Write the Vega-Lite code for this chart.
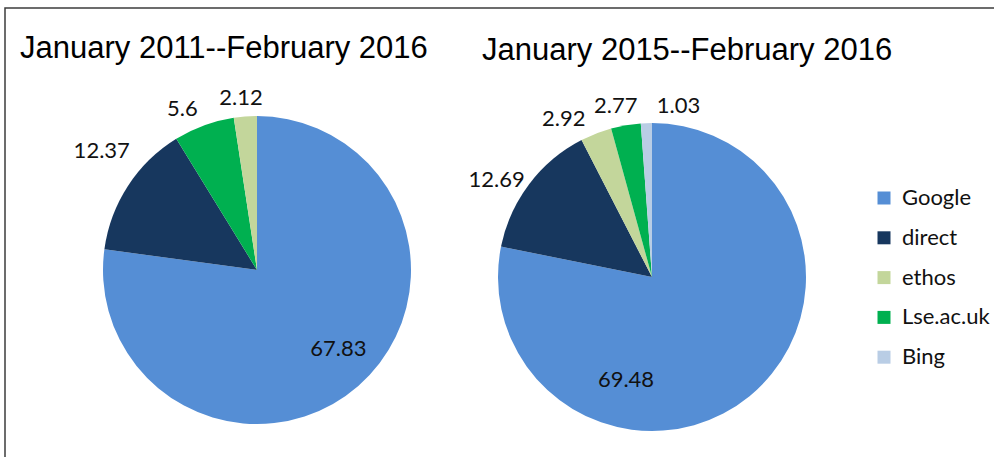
{
  "$schema": "https://vega.github.io/schema/vega-lite/v6.json",
  "width": 1000,
  "height": 460,
  "autosize": {"type": "none"},
  "padding": {"left": 5, "top": 8, "right": 0, "bottom": 0},
  "background": "white",
  "config": {
    "view": {"stroke": "#3c3c3c", "strokeWidth": 1.5},
    "text": {"font": "Lato", "fontSize": 22, "color": "#111111", "baseline": "middle"}
  },
  "datasets": {
    "pies": [
      {"period": "2011", "source": "Google", "value": 67.83},
      {"period": "2011", "source": "direct", "value": 12.37},
      {"period": "2011", "source": "Lse.ac.uk", "value": 5.6},
      {"period": "2011", "source": "ethos", "value": 2.12},
      {"period": "2015", "source": "Google", "value": 69.48},
      {"period": "2015", "source": "direct", "value": 12.69},
      {"period": "2015", "source": "ethos", "value": 2.92},
      {"period": "2015", "source": "Lse.ac.uk", "value": 2.77},
      {"period": "2015", "source": "Bing", "value": 1.03}
    ],
    "titles": [
      {"period": "2011", "title": "January 2011--February 2016"},
      {"period": "2015", "title": "January 2015--February 2016"}
    ]
  },
  "layer": [
    {
      "data": {"name": "pies"},
      "transform": [
        {"stack": "value", "groupby": ["period"], "sort": [{"field": "value", "order": "descending"}], "offset": "normalize", "as": ["v0", "v1"]},
        {"fold": ["v0", "v1"], "as": ["edge", "pos"]},
        {"aggregate": [{"op": "mean", "field": "pos", "as": "mid"}], "groupby": ["period", "source", "value", "v0", "v1"]}
      ],
      "encoding": {
        "x": {"field": "period", "type": "nominal", "scale": {"type": "point", "domain": ["2011", "2015"], "range": [252, 647], "padding": 0}, "axis": null},
        "y": {"field": "period", "type": "nominal", "scale": {"type": "point", "domain": ["2011", "2015"], "range": [262, 269], "padding": 0}, "axis": null}
      },
      "layer": [
        {
          "mark": {"type": "arc", "radius": 154},
          "encoding": {
            "theta": {"field": "v0", "type": "quantitative", "stack": null, "scale": {"domain": [0, 1], "range": [0, 6.283185307179586], "zero": false}},
            "theta2": {"field": "v1"},
            "color": {
              "field": "source", "type": "nominal",
              "scale": {"domain": ["Google", "direct", "ethos", "Lse.ac.uk", "Bing"], "range": ["#558ED5", "#17375E", "#C3D69B", "#00B050", "#B9CDE5"]},
              "legend": {"orient": "none", "legendX": 868, "legendY": 179, "title": null, "symbolType": "square", "symbolSize": 169, "symbolStrokeWidth": 0, "labelFont": "Lato", "labelFontSize": 22, "labelColor": "#111111", "rowPadding": 17.8, "labelOffset": 7, "padding": 0}
            }
          }
        },
        {
          "transform": [{"filter": {"and": [{"field": "period", "equal": "2011"}, {"field": "source", "equal": "Google"}]}}],
          "mark": {"type": "text", "radius": 113, "align": "center", "dx": 7, "dy": -6},
          "encoding": {"theta": {"field": "mid", "type": "quantitative"}, "text": {"field": "value", "type": "nominal"}}
        },
        {
          "transform": [{"filter": {"and": [{"field": "period", "equal": "2011"}, {"field": "source", "equal": "direct"}]}}],
          "mark": {"type": "text", "radius": 172, "align": "right", "dx": 17, "dy": -25},
          "encoding": {"theta": {"field": "mid", "type": "quantitative"}, "text": {"field": "value", "type": "nominal"}}
        },
        {
          "transform": [{"filter": {"and": [{"field": "period", "equal": "2011"}, {"field": "source", "equal": "Lse.ac.uk"}]}}],
          "mark": {"type": "text", "radius": 172, "align": "right", "dx": 0, "dy": 0},
          "encoding": {"theta": {"field": "mid", "type": "quantitative"}, "text": {"field": "value", "type": "nominal"}}
        },
        {
          "transform": [{"filter": {"and": [{"field": "period", "equal": "2011"}, {"field": "source", "equal": "ethos"}]}}],
          "mark": {"type": "text", "radius": 172, "align": "center", "dx": -3, "dy": 0},
          "encoding": {"theta": {"field": "mid", "type": "quantitative"}, "text": {"field": "value", "type": "nominal"}}
        },
        {
          "transform": [{"filter": {"and": [{"field": "period", "equal": "2015"}, {"field": "source", "equal": "Google"}]}}],
          "mark": {"type": "text", "align": "center", "dx": -26, "dy": 103},
          "encoding": {"text": {"field": "value", "type": "nominal"}}
        },
        {
          "transform": [{"filter": {"and": [{"field": "period", "equal": "2015"}, {"field": "source", "equal": "direct"}]}}],
          "mark": {"type": "text", "radius": 172, "align": "right", "dx": 10, "dy": 7},
          "encoding": {"theta": {"field": "mid", "type": "quantitative"}, "text": {"field": "value", "type": "nominal"}}
        },
        {
          "transform": [{"filter": {"and": [{"field": "period", "equal": "2015"}, {"field": "source", "equal": "ethos"}]}}],
          "mark": {"type": "text", "radius": 172, "align": "right", "dx": -4, "dy": 2},
          "encoding": {"theta": {"field": "mid", "type": "quantitative"}, "text": {"field": "value", "type": "nominal"}}
        },
        {
          "transform": [{"filter": {"and": [{"field": "period", "equal": "2015"}, {"field": "source", "equal": "Lse.ac.uk"}]}}],
          "mark": {"type": "text", "radius": 172, "align": "center", "dx": -7, "dy": -1},
          "encoding": {"theta": {"field": "mid", "type": "quantitative"}, "text": {"field": "value", "type": "nominal"}}
        },
        {
          "transform": [{"filter": {"and": [{"field": "period", "equal": "2015"}, {"field": "source", "equal": "Bing"}]}}],
          "mark": {"type": "text", "radius": 172, "align": "left", "dx": 11, "dy": 1},
          "encoding": {"theta": {"field": "mid", "type": "quantitative"}, "text": {"field": "value", "type": "nominal"}}
        }
      ]
    },
    {
      "data": {"name": "titles"},
      "mark": {"type": "text", "align": "left", "baseline": "alphabetic", "font": "Liberation Sans", "fontSize": 31, "color": "#000000"},
      "encoding": {
        "x": {"field": "period", "type": "nominal", "scale": {"type": "point", "domain": ["2011", "2015"], "range": [15, 477], "padding": 0}, "axis": null},
        "y": {"field": "period", "type": "nominal", "scale": {"type": "point", "domain": ["2011", "2015"], "range": [50, 52], "padding": 0}, "axis": null},
        "text": {"field": "title", "type": "nominal"}
      }
    }
  ],
  "resolve": {"scale": {"x": "independent", "y": "independent"}}
}
